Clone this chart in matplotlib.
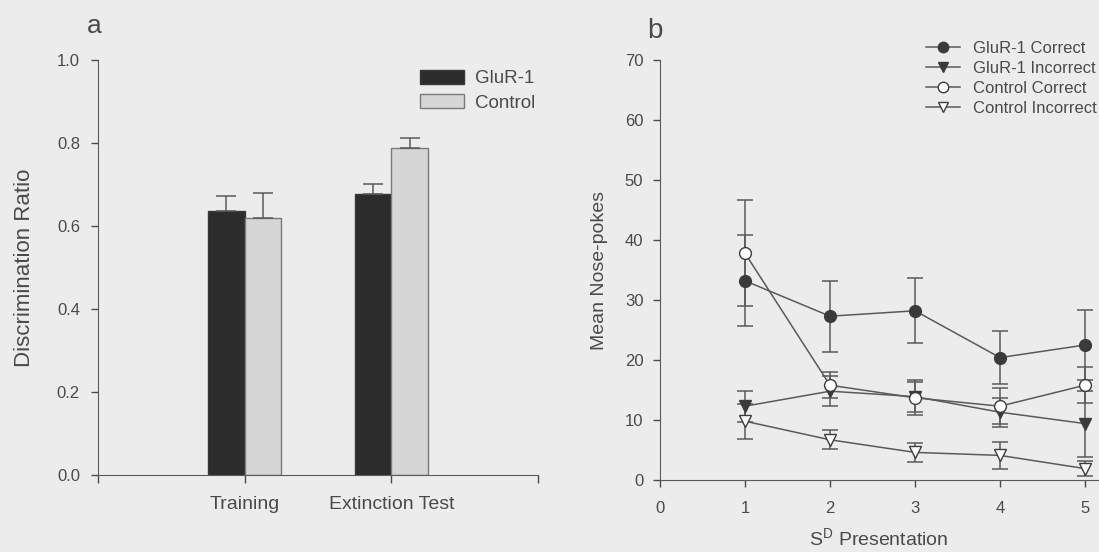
import numpy as np
import matplotlib
matplotlib.use("Agg")
import matplotlib.pyplot as plt
from matplotlib.patches import Patch
from matplotlib.lines import Line2D

# panel a: discrimination ratio
phases = ["Training", "Extinction Test"]
glur_ratio = [0.635, 0.677]
glur_ratio_err = [0.038, 0.024]
ctrl_ratio = [0.619, 0.787]
ctrl_ratio_err = [0.060, 0.025]

# panel b: nose-pokes per SD presentation
presentation = [1, 2, 3, 4, 5]
glur_correct = [33.2, 27.3, 28.2, 20.4, 22.5]
glur_correct_err = [7.6, 5.9, 5.4, 4.4, 5.8]
glur_incorrect = [12.3, 14.8, 13.9, 11.3, 9.4]
glur_incorrect_err = [2.6, 2.5, 2.5, 2.4, 5.5]
ctrl_correct = [37.8, 15.8, 13.7, 12.3, 15.8]
ctrl_correct_err = [8.8, 2.2, 2.9, 3.0, 3.0]
ctrl_incorrect = [9.8, 6.7, 4.6, 4.1, 1.9]
ctrl_incorrect_err = [2.9, 1.6, 1.6, 2.3, 1.3]

plt.rcParams['font.family'] = ['Liberation Sans', 'DejaVu Sans']
bg = '#ececec'
ink = '#4a4a4a'
line = '#5a5a5a'
dark = '#3a3a3a'
plt.rcParams['text.color'] = ink
plt.rcParams['axes.labelcolor'] = ink
plt.rcParams['xtick.color'] = ink
plt.rcParams['ytick.color'] = ink
plt.rcParams['axes.edgecolor'] = line
plt.rcParams['mathtext.fontset'] = 'custom'
plt.rcParams['mathtext.rm'] = 'Liberation Sans'

W, H = 1099, 552
fig = plt.figure(figsize=(W / 100, H / 100), dpi=100, facecolor=bg)

# ---- panel a
axa = fig.add_axes([98 / W, 1 - 475 / H, 440 / W, 415 / H])
axa.set_facecolor(bg)
w = 0.25
xs = np.arange(1, len(phases) + 1)
axa.bar(xs - w / 2, glur_ratio, w, color='#2c2c2c', edgecolor='#383838', linewidth=1)
axa.bar(xs + w / 2, ctrl_ratio, w, color='#d6d6d6', edgecolor='#7a7a7a', linewidth=1)
axa.errorbar(xs - w / 2, glur_ratio, yerr=[[0] * 2, glur_ratio_err], fmt='none',
             ecolor=line, elinewidth=1.1, capsize=7, capthick=1.1)
axa.errorbar(xs + w / 2, ctrl_ratio, yerr=[[0] * 2, ctrl_ratio_err], fmt='none',
             ecolor=line, elinewidth=1.1, capsize=7, capthick=1.1)
axa.set_xlim(0, 3)
axa.set_ylim(0, 1.0)
axa.set_xticks([0, 1, 2, 3])
axa.set_xticklabels(["", phases[0], phases[1], ""])
axa.set_yticks(np.arange(0, 1.01, 0.2))
axa.set_yticklabels(["%.1f" % v for v in np.arange(0, 1.01, 0.2)])
for s in ['top', 'right']:
    axa.spines[s].set_visible(False)
axa.tick_params(axis='y', labelsize=12, length=5, width=1, pad=8)
axa.tick_params(axis='x', labelsize=14, length=6, width=1, pad=9)
fig.text(25 / W, 1 - 268 / H, "Discrimination Ratio", fontsize=16, rotation=90,
         ha='center', va='center')
fig.legend(handles=[Patch(facecolor='#2c2c2c', edgecolor='#383838', label='GluR-1'),
                    Patch(facecolor='#d6d6d6', edgecolor='#7a7a7a', label='Control')],
           loc='upper left', bbox_to_anchor=(420 / W, 1 - 70 / H), frameon=False,
           fontsize=13.5, handlelength=2.35, handleheight=0.75, handletextpad=0.6,
           labelspacing=0.36, borderpad=0, borderaxespad=0)
fig.text(87 / W, 1 - 33 / H, "a", fontsize=19, va='baseline')

# ---- panel b
axb = fig.add_axes([660 / W, 1 - 480 / H, 5.2 * 85 / W, 420 / H])
axb.set_facecolor(bg)
series = [
    (glur_correct, glur_correct_err, 'o', dark, 'GluR-1 Correct'),
    (glur_incorrect, glur_incorrect_err, 'v', dark, 'GluR-1 Incorrect'),
    (ctrl_correct, ctrl_correct_err, 'o', 'white', 'Control Correct'),
    (ctrl_incorrect, ctrl_incorrect_err, 'v', 'white', 'Control Incorrect'),
]
handles = []
for vals, err, mk, fc, lab in series:
    axb.errorbar(presentation, vals, yerr=err, color=line, marker=mk, markersize=8.5,
                 markerfacecolor=fc, markeredgecolor='#3c3c3c', linewidth=1.1,
                 elinewidth=1.1, capsize=6, capthick=1.1, clip_on=False)
    handles.append(Line2D([0], [0], color=line, marker=mk, markersize=7.5,
                          markerfacecolor=fc, markeredgecolor='#3c3c3c', lw=1.1, label=lab))
axb.set_xlim(0, 5.2)
axb.set_ylim(0, 70)
axb.set_xticks(range(0, 6))
axb.set_yticks(range(0, 71, 10))
for s in ['top', 'right']:
    axb.spines[s].set_visible(False)
axb.tick_params(axis='y', labelsize=12, length=5, width=1, pad=7)
axb.tick_params(axis='x', labelsize=12, length=5, width=1, pad=10)
fig.text(600 / W, 1 - 270 / H, "Mean Nose-pokes", fontsize=14, rotation=90,
         ha='center', va='center')
fig.text(879 / W, 1 - 546 / H, r"S$^{\mathrm{D}}$ Presentation", fontsize=14,
         ha='center', va='baseline')
fig.legend(handles=handles, loc='upper left', bbox_to_anchor=(926 / W, 1 - 41 / H),
           frameon=False, fontsize=12, handlelength=2.05, handletextpad=0.75,
           labelspacing=0.3, borderpad=0, borderaxespad=0)
fig.text(647 / W, 1 - 38 / H, "b", fontsize=20, va='baseline')

fig.savefig("out.png", dpi=100, facecolor=bg)
